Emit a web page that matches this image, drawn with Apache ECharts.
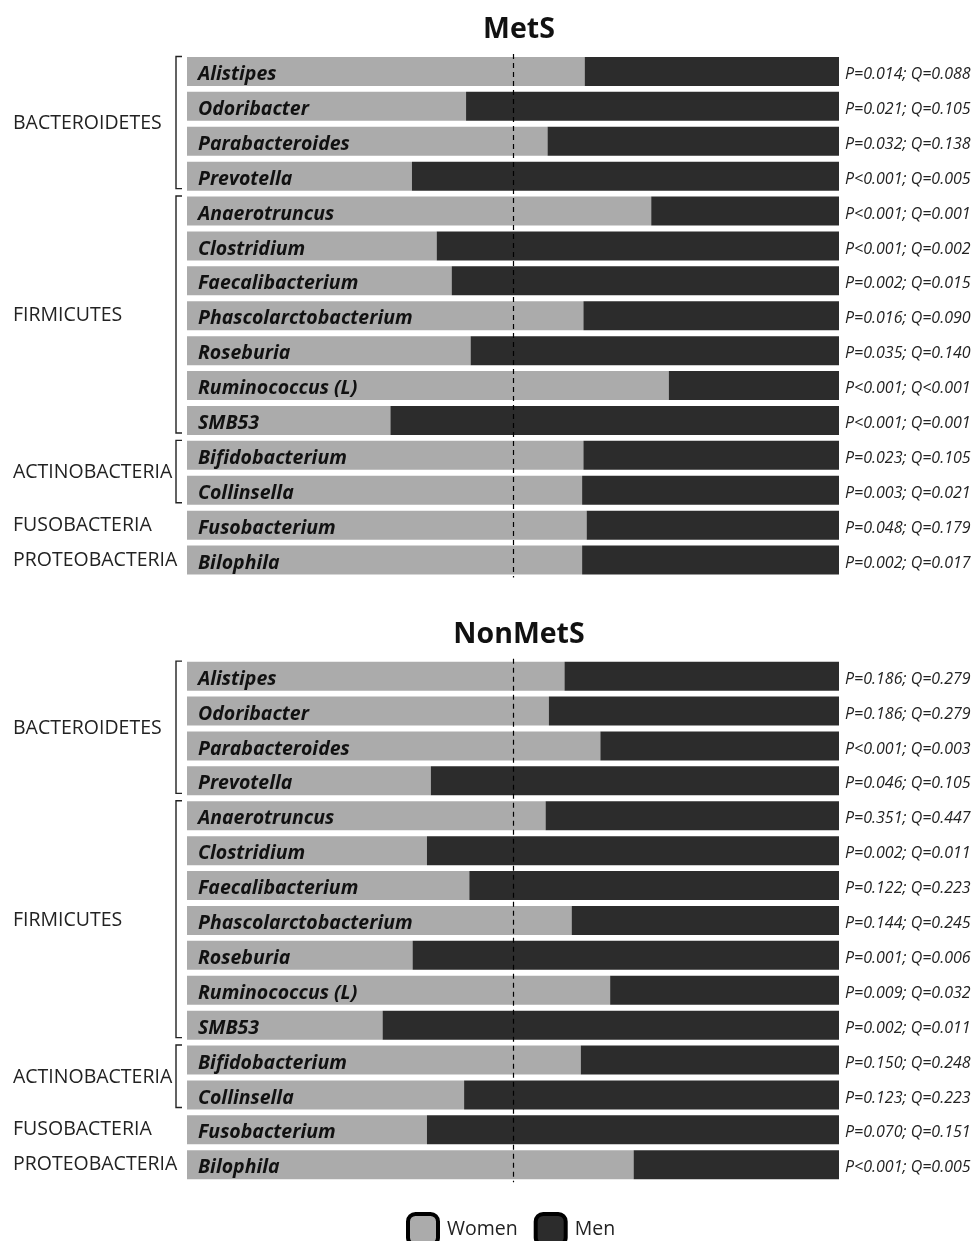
<!DOCTYPE html>
<html>
<head>
<meta charset="utf-8">
<script src="https://cdn.jsdelivr.net/npm/echarts@6/dist/echarts.min.js"></script>
<style>
  html, body { margin: 0; padding: 0; background: #fff; }
  #chart { width: 976px; height: 1241px; }
</style>
</head>
<body>
<div id="chart"></div>
<script>
// Genera, top to bottom
const genera = ['Alistipes', 'Odoribacter', 'Parabacteroides', 'Prevotella',
  'Anaerotruncus', 'Clostridium', 'Faecalibacterium', 'Phascolarctobacterium',
  'Roseburia', 'Ruminococcus (L)', 'SMB53', 'Bifidobacterium', 'Collinsella',
  'Fusobacterium', 'Bilophila'];

// Phylum groups: first and last genus index, bracket drawn or not
const phylumNames = ['BACTEROIDETES', 'FIRMICUTES', 'ACTINOBACTERIA', 'FUSOBACTERIA', 'PROTEOBACTERIA'];
const phylumFrom = [0, 4, 11, 13, 14];
const phylumTo = [3, 10, 12, 13, 14];
const phylumBracket = [true, true, true, false, false];

// Share (%) of women and men, MetS
const metsWomen = [61.0, 42.8, 55.3, 34.5, 71.2, 38.3, 40.6, 60.8, 43.5, 73.9, 31.2, 60.8, 60.6, 61.3, 60.6];
const metsMen = [39.0, 57.2, 44.7, 65.5, 28.8, 61.7, 59.4, 39.2, 56.5, 26.1, 68.8, 39.2, 39.4, 38.7, 39.4];
const metsStats = ['P=0.014; Q=0.088', 'P=0.021; Q=0.105', 'P=0.032; Q=0.138', 'P<0.001; Q=0.005',
  'P<0.001; Q=0.001', 'P<0.001; Q=0.002', 'P=0.002; Q=0.015', 'P=0.016; Q=0.090',
  'P=0.035; Q=0.140', 'P<0.001; Q<0.001', 'P<0.001; Q=0.001', 'P=0.023; Q=0.105',
  'P=0.003; Q=0.021', 'P=0.048; Q=0.179', 'P=0.002; Q=0.017'];

// Share (%) of women and men, NonMetS
const nonMetsWomen = [57.9, 55.5, 63.4, 37.4, 55.0, 36.8, 43.3, 59.0, 34.6, 64.9, 30.0, 60.4, 42.5, 36.8, 68.5];
const nonMetsMen = [42.1, 44.5, 36.6, 62.6, 45.0, 63.2, 56.7, 41.0, 65.4, 35.1, 70.0, 39.6, 57.5, 63.2, 31.5];
const nonMetsStats = ['P=0.186; Q=0.279', 'P=0.186; Q=0.279', 'P<0.001; Q=0.003', 'P=0.046; Q=0.105',
  'P=0.351; Q=0.447', 'P=0.002; Q=0.011', 'P=0.122; Q=0.223', 'P=0.144; Q=0.245',
  'P=0.001; Q=0.006', 'P=0.009; Q=0.032', 'P=0.002; Q=0.011', 'P=0.150; Q=0.248',
  'P=0.123; Q=0.223', 'P=0.070; Q=0.151', 'P<0.001; Q=0.005'];

const panelTitles = ['MetS', 'NonMetS'];
const seriesNames = ['Women', 'Men'];

const FONT = '"Open Sans", Lato, sans-serif';
const WOMEN_COLOR = '#ababab';
const MEN_COLOR = '#2c2c2c';

const chart = echarts.init(document.getElementById('chart'), null, { renderer: 'canvas' });

const gridTops = [54, 658.7];
const gridHeight = 523.5;

function panelSeries(idx, women, men, stats) {
  return [
    {
      name: seriesNames[0], type: 'bar', stack: 'p' + idx,
      xAxisIndex: idx, yAxisIndex: idx,
      data: women, barWidth: 29,
      itemStyle: { color: WOMEN_COLOR },
      silent: true,
      // genus name written inside the left end of each bar
      label: {
        show: true, position: 'insideLeft', distance: 11, offset: [0, 3],
        formatter: p => genera[p.dataIndex],
        fontFamily: FONT, fontStyle: 'italic', fontWeight: 'bold',
        fontSize: 19.5, color: '#111'
      }
    },
    {
      name: seriesNames[1], type: 'bar', stack: 'p' + idx,
      xAxisIndex: idx, yAxisIndex: idx,
      data: men, barWidth: 29,
      itemStyle: { color: MEN_COLOR },
      silent: true,
      label: {
        show: true, position: 'right', distance: 6, offset: [0, 3],
        formatter: p => stats[p.dataIndex],
        fontFamily: FONT, fontStyle: 'italic', fontSize: 16, color: '#222'
      },
      markLine: {
        silent: true, symbol: 'none', animation: false,
        label: { show: false },
        lineStyle: { type: [5, 4], color: '#000', width: 1.2 },
        data: [{ xAxis: 50 }]
      }
    }
  ];
}

const option = {
  backgroundColor: '#fff',
  animation: false,
  textStyle: { fontFamily: FONT },
  title: panelTitles.map((t, i) => ({
    text: t, left: 514, textAlign: 'center',
    top: i === 0 ? 10 : 615,
    textStyle: { fontFamily: FONT, fontWeight: 'bold', fontSize: 28.5, color: '#111' }
  })),
  legend: {
    data: seriesNames, top: 1207, left: 401,
    icon: 'roundRect', itemWidth: 30, itemHeight: 31, itemGap: 16,
    itemStyle: { borderColor: '#000', borderWidth: 4 },
    textStyle: { fontFamily: FONT, fontSize: 19.5, color: '#222', padding: [0, 0, 0, 4] }
  },
  grid: gridTops.map(t => ({ left: 187, width: 652, top: t, height: gridHeight })),
  xAxis: [0, 1].map(i => ({
    type: 'value', gridIndex: i, min: 0, max: 100, show: false
  })),
  yAxis: [0, 1].map(i => ({
    type: 'category', gridIndex: i, data: genera, inverse: true,
    axisLine: { show: false }, axisTick: { show: false }, splitLine: { show: false },
    axisLabel: { show: false }
  })),
  series: [
    ...panelSeries(0, metsWomen, metsMen, metsStats),
    ...panelSeries(1, nonMetsWomen, nonMetsMen, nonMetsStats)
  ]
};

chart.setOption(option);

// Phylum names and brackets, positioned from the category axis
const graphics = [];
[0, 1].forEach(g => {
  const x0 = chart.convertToPixel({ gridIndex: g }, [0, 0])[0];
  const bx = x0 - 11;
  phylumNames.forEach((name, k) => {
    const cTop = chart.convertToPixel({ gridIndex: g }, [0, phylumFrom[k]])[1];
    const cBot = chart.convertToPixel({ gridIndex: g }, [0, phylumTo[k]])[1];
    const yMid = (cTop + cBot) / 2 + 4;
    graphics.push({
      type: 'text', left: 13, top: yMid - 14, silent: true,
      style: { text: name, fontFamily: FONT, fontSize: 19.5, fill: '#222' }
    });
    if (phylumBracket[k]) {
      const yTop = cTop - 15, yBot = cBot + 12.5;
      graphics.push({
        type: 'polyline', silent: true,
        shape: { points: [[bx + 6, yTop], [bx, yTop], [bx, yBot], [bx + 6, yBot]] },
        style: { stroke: '#222', lineWidth: 1.4, fill: null }
      });
    }
  });
});
chart.setOption({ graphic: graphics });
</script>
</body>
</html>
